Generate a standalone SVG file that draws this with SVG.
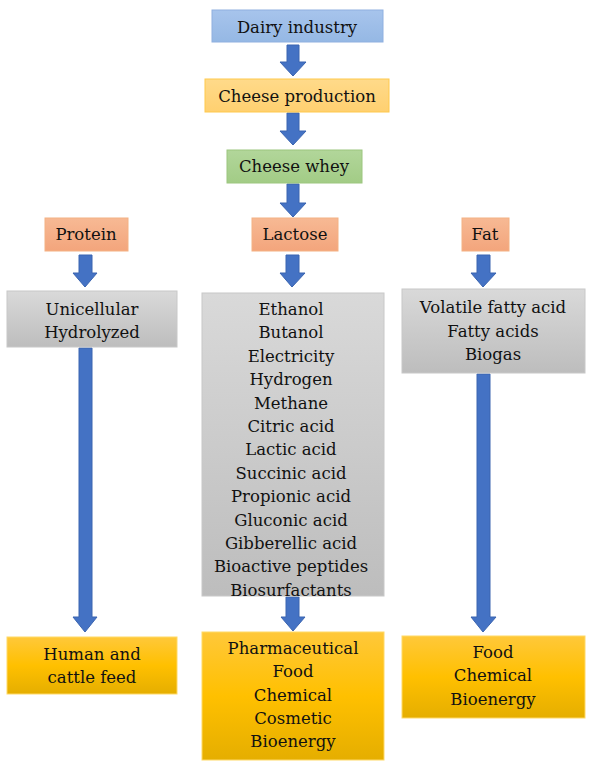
<svg xmlns="http://www.w3.org/2000/svg" width="592" height="768" viewBox="0 0 592 768">
<defs>
<linearGradient id="gBlue" x1="0" y1="0" x2="0" y2="1"><stop offset="0" stop-color="#A7C4EC"/><stop offset="1" stop-color="#95B8E4"/></linearGradient>
<linearGradient id="gYel" x1="0" y1="0" x2="0" y2="1"><stop offset="0" stop-color="#FFDA8A"/><stop offset="1" stop-color="#FFD070"/></linearGradient>
<linearGradient id="gGrn" x1="0" y1="0" x2="0" y2="1"><stop offset="0" stop-color="#B2D69A"/><stop offset="1" stop-color="#A2CC86"/></linearGradient>
<linearGradient id="gSal" x1="0" y1="0" x2="0" y2="1"><stop offset="0" stop-color="#F7B994"/><stop offset="1" stop-color="#F3A57C"/></linearGradient>
<linearGradient id="gGray" x1="0" y1="0" x2="0" y2="1"><stop offset="0" stop-color="#D9D9D9"/><stop offset="1" stop-color="#BDBDBD"/></linearGradient>
<linearGradient id="gGold" x1="0" y1="0" x2="0" y2="1"><stop offset="0" stop-color="#FFC83A"/><stop offset="0.5" stop-color="#FFC000"/><stop offset="1" stop-color="#E5AE00"/></linearGradient>
</defs>
<style>
text{font-family:"DejaVu Serif","Liberation Serif",serif;font-size:16.5px;fill:#111;text-anchor:middle}
.blue{fill:url(#gBlue);stroke:#8FB0E0;stroke-width:1}
.yel{fill:url(#gYel);stroke:#FFC94D;stroke-width:1}
.grn{fill:url(#gGrn);stroke:#9CC67F;stroke-width:1}
.sal{fill:url(#gSal);stroke:#F4B183;stroke-width:1}
.gray{fill:url(#gGray);stroke:#C8C8C8;stroke-width:1}
.gold{fill:url(#gGold);stroke:#FFD966;stroke-width:1}
.arr{fill:#4472C4;stroke:#3A64B0;stroke-width:1}
</style>

<g id="connectors">
<polygon class="arr" points="287,45 299,45 299,62 306,62 293,76 280,62 287,62"/>
<polygon class="arr" points="287,113 299,113 299,131 306,131 293,145 280,131 287,131"/>
<polygon class="arr" points="287,184 299,184 299,203 306,203 293,217 280,203 287,203"/>
<polygon class="arr" points="79,255 92,255 92,273 97,273 85,287 73,273 79,273"/>
<polygon class="arr" points="286,255 299,255 299,273 305,273 292,287 280,273 286,273"/>
<polygon class="arr" points="477,255 490,255 490,273 496,273 483,287 471,273 477,273"/>
<polygon class="arr" points="79,348 92,348 92,617 97,617 85,632 73,617 79,617"/>
<polygon class="arr" points="286,597 299,597 299,617 305,617 293,631 281,617 286,617"/>
<polygon class="arr" points="477,374 490,374 490,617 496,617 483,632 471,617 477,617"/>
</g>

<g id="dairy"><rect class="blue" x="212" y="10" width="171" height="32"/><text x="297" y="33">Dairy industry</text></g>
<g id="cheese-production"><rect class="yel" x="205" y="79" width="184" height="33"/><text x="297" y="102">Cheese production</text></g>
<g id="cheese-whey"><rect class="grn" x="227" y="150" width="135" height="33"/><text x="294" y="172">Cheese whey</text></g>

<g id="protein"><rect class="sal" x="45" y="218" width="83" height="33"/><text x="86" y="240">Protein</text></g>
<g id="lactose"><rect class="sal" x="252" y="218" width="86" height="33"/><text x="295" y="240">Lactose</text></g>
<g id="fat"><rect class="sal" x="462" y="218" width="47" height="33"/><text x="485" y="240">Fat</text></g>

<g id="protein-products"><rect class="gray" x="7" y="291" width="170" height="56"/>
<text x="92" y="315">Unicellular</text><text x="92" y="338">Hydrolyzed</text></g>

<g id="lactose-products"><rect class="gray" x="202" y="293" width="182" height="303"/>
<text x="291" y="315">Ethanol</text>
<text x="291" y="338.4">Butanol</text>
<text x="291" y="361.8">Electricity</text>
<text x="291" y="385.2">Hydrogen</text>
<text x="291" y="408.6">Methane</text>
<text x="291" y="432">Citric acid</text>
<text x="291" y="455.4">Lactic acid</text>
<text x="291" y="478.8">Succinic acid</text>
<text x="291" y="502.2">Propionic acid</text>
<text x="291" y="525.6">Gluconic acid</text>
<text x="291" y="549">Gibberellic  acid</text>
<text x="291" y="572.4">Bioactive peptides</text>
<text x="291" y="595.8">Biosurfactants</text></g>

<g id="fat-products"><rect class="gray" x="402" y="289" width="183" height="84"/>
<text x="493" y="313">Volatile fatty acid</text><text x="493" y="337">Fatty acids</text><text x="493" y="360">Biogas</text></g>

<g id="protein-uses"><rect class="gold" x="7" y="637" width="170" height="57"/>
<text x="92" y="660">Human and</text><text x="92" y="683">cattle feed</text></g>

<g id="lactose-uses"><rect class="gold" x="202" y="632" width="182" height="128"/>
<text x="293" y="654">Pharmaceutical</text><text x="293" y="677">Food</text><text x="293" y="701">Chemical</text><text x="293" y="724">Cosmetic</text><text x="293" y="747">Bioenergy</text></g>

<g id="fat-uses"><rect class="gold" x="402" y="636" width="183" height="82"/>
<text x="493" y="658">Food</text><text x="493" y="681">Chemical</text><text x="493" y="705">Bioenergy</text></g>
</svg>
